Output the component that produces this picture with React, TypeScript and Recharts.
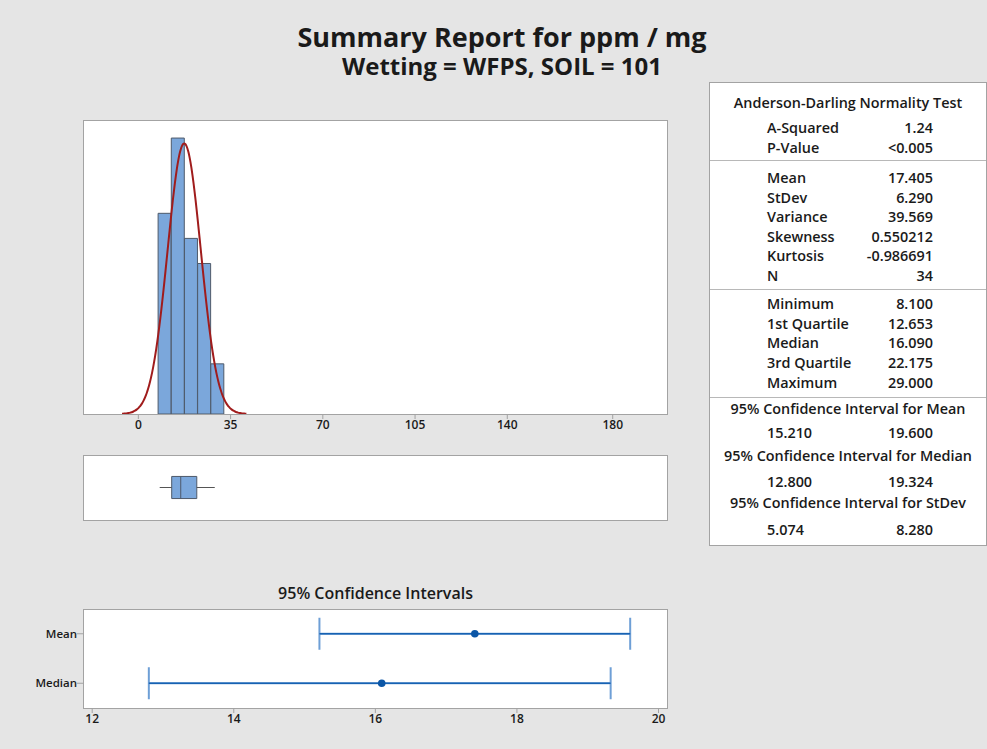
import {
  Bar,
  ComposedChart,
  ErrorBar,
  Line,
  ReferenceArea,
  ReferenceLine,
  Scatter,
  ScatterChart,
  XAxis,
  YAxis,
} from "recharts";

// histogram of ppm / mg
const binCenters = [10, 15, 20, 25, 30];
const binCounts = [8, 11, 7, 6, 2];
const binWidth = 5;
const histTicks = [0, 35, 70, 105, 140, 180];
const histDomain: [number, number] = [-21, 200.6];

// sample summary (also used for the fitted normal curve)
const sampleN = 34;
const sampleMean = 17.405;
const sampleStDev = 6.29;

// boxplot five-number summary
const boxMin = 8.1;
const boxQ1 = 12.653;
const boxMedian = 16.09;
const boxQ3 = 22.175;
const boxMax = 29.0;

// 95% confidence intervals
const ciNames = ["Mean", "Median"];
const ciCenters = [17.405, 16.09];
const ciLower = [15.21, 12.8];
const ciUpper = [19.6, 19.324];
const ciTicks = [12, 14, 16, 18, 20];
const ciDomain: [number, number] = [11.87, 20.12];

// right-hand table
const adLabels = ["A-Squared", "P-Value"];
const adValues = ["1.24", "<0.005"];
const momentLabels = ["Mean", "StDev", "Variance", "Skewness", "Kurtosis", "N"];
const momentValues = ["17.405", "6.290", "39.569", "0.550212", "-0.986691", "34"];
const quantLabels = ["Minimum", "1st Quartile", "Median", "3rd Quartile", "Maximum"];
const quantValues = ["8.100", "12.653", "16.090", "22.175", "29.000"];
const ciTableTitles = [
  "95% Confidence Interval for Mean",
  "95% Confidence Interval for Median",
  "95% Confidence Interval for StDev",
];
const ciTableLow = ["15.210", "12.800", "5.074"];
const ciTableHigh = ["19.600", "19.324", "8.280"];

const BG = "#e5e5e5";
const PANEL_BORDER = "#a3a3a3";
const BAR_FILL = "#7ba7db";
const BAR_STROKE = "#4e5a6a";
const CURVE = "#a01c1c";
const TEXT = "#1a1a1a";

const histData = binCenters.map((x, i) => ({ x, count: binCounts[i] }));

// fitted normal density scaled to counts
const curveLo = sampleMean - 3.75 * sampleStDev;
const curveHi = sampleMean + 3.75 * sampleStDev;
const curveData = Array.from({ length: 121 }, (_, i) => {
  const x = curveLo + ((curveHi - curveLo) * i) / 120;
  const z = (x - sampleMean) / sampleStDev;
  const y = (sampleN * binWidth * Math.exp(-0.5 * z * z)) / (sampleStDev * Math.sqrt(2 * Math.PI));
  return { x, y };
});

const ciData = ciNames.map((name, i) => ({
  name,
  center: ciCenters[i],
  err: [ciCenters[i] - ciLower[i], ciUpper[i] - ciCenters[i]],
}));

const tickStyle = { fontSize: 12, fill: TEXT, fontWeight: 600 };

function Panel({ left, top, width, height }: { left: number; top: number; width: number; height: number }) {
  return (
    <div
      style={{
        position: "absolute",
        left,
        top,
        width: width - 2,
        height: height - 2,
        background: "#fff",
        border: `1px solid ${PANEL_BORDER}`,
      }}
    />
  );
}

function Histogram() {
  return (
    <div style={{ position: "absolute", left: 73, top: 110 }}>
      <ComposedChart width={604} height={340} data={histData} margin={{ top: 10, right: 10, bottom: 6, left: 10 }} barCategoryGap={0} barGap={0}>
        <XAxis
          dataKey="x"
          type="number"
          domain={histDomain}
          ticks={histTicks}
          allowDataOverflow
          axisLine={false}
          tickLine={{ stroke: PANEL_BORDER }}
          tickSize={5}
          tickMargin={1}
          tick={tickStyle}
          interval={0}
        />
        <XAxis xAxisId="curve" dataKey="x" type="number" domain={histDomain} allowDataOverflow hide />
        <YAxis type="number" domain={[0, 11.72]} allowDataOverflow hide />
        <Bar dataKey="count" fill={BAR_FILL} stroke={BAR_STROKE} strokeWidth={1} isAnimationActive={false} />
        <Line
          xAxisId="curve"
          data={curveData}
          dataKey="y"
          type="monotone"
          stroke={CURVE}
          strokeWidth={2}
          dot={false}
          isAnimationActive={false}
        />
      </ComposedChart>
    </div>
  );
}

function BoxPlot() {
  return (
    <div style={{ position: "absolute", left: 73, top: 445 }}>
      <ComposedChart width={604} height={85} data={[{ x: boxMedian, y: 0.5 }]} margin={{ top: 10, right: 10, bottom: 10, left: 10 }}>
        <XAxis dataKey="x" type="number" domain={histDomain} allowDataOverflow hide />
        <YAxis type="number" domain={[0, 1]} allowDataOverflow hide />
        <ReferenceLine segment={[{ x: boxMin, y: 0.5 }, { x: boxQ1, y: 0.5 }]} stroke="#555" strokeWidth={1} />
        <ReferenceLine segment={[{ x: boxQ3, y: 0.5 }, { x: boxMax, y: 0.5 }]} stroke="#555" strokeWidth={1} />
        <ReferenceArea x1={boxQ1} x2={boxQ3} y1={0.33} y2={0.67} fill={BAR_FILL} fillOpacity={1} stroke={BAR_STROKE} strokeWidth={1} />
        <ReferenceLine segment={[{ x: boxMedian, y: 0.33 }, { x: boxMedian, y: 0.67 }]} stroke={BAR_STROKE} strokeWidth={1} />
      </ComposedChart>
    </div>
  );
}

function CiChart() {
  return (
    <div style={{ position: "absolute", left: 0, top: 599 }}>
      <ScatterChart width={687} height={140} margin={{ top: 10, right: 20, bottom: 1, left: 13 }}>
        <XAxis
          dataKey="center"
          type="number"
          domain={ciDomain}
          ticks={ciTicks}
          allowDataOverflow
          axisLine={false}
          tickLine={{ stroke: PANEL_BORDER }}
          tickSize={5}
          tickMargin={1}
          tick={tickStyle}
          interval={0}
        />
        <YAxis
          dataKey="name"
          type="category"
          reversed
          width={70}
          axisLine={false}
          tickLine={{ stroke: PANEL_BORDER }}
          tickSize={6}
          tickMargin={0}
          tick={{ fontSize: 11.5, fill: TEXT, fontWeight: 600 }}
        />
        <Scatter
          data={ciData}
          isAnimationActive={false}
          shape={(p: any) => <circle cx={p.cx} cy={p.cy} r={3.8} fill="#0b56a6" />}
        >
          <ErrorBar dataKey="err" direction="x" width={16} stroke="#6e9fd6" strokeWidth={2} isAnimationActive={false} />
          <ErrorBar dataKey="err" direction="x" width={0} stroke="#1762b2" strokeWidth={1.5} isAnimationActive={false} />
        </Scatter>
      </ScatterChart>
    </div>
  );
}

function Row({ top, label, value }: { top: number; label: string; value: string }) {
  return (
    <>
      <div style={{ position: "absolute", left: 57, top: top - 10, height: 20, lineHeight: "20px", whiteSpace: "nowrap" }}>{label}</div>
      <div style={{ position: "absolute", right: 53, top: top - 10, height: 20, lineHeight: "20px", whiteSpace: "nowrap", textAlign: "right" }}>{value}</div>
    </>
  );
}

function Centered({ top, text }: { top: number; text: string }) {
  return (
    <div style={{ position: "absolute", left: 0, right: 0, top: top - 10, height: 20, lineHeight: "20px", textAlign: "center", whiteSpace: "nowrap" }}>
      {text}
    </div>
  );
}

function StatsTable() {
  const T = 82;
  const sep = (y: number) => (
    <div style={{ position: "absolute", left: 0, right: 0, top: y - T - 1, height: 1, background: "#b8b8b8" }} />
  );
  return (
    <div
      style={{
        position: "absolute",
        left: 709,
        top: T,
        width: 276,
        height: 462,
        background: "#fff",
        border: `1px solid ${PANEL_BORDER}`,
        fontSize: 14.4,
        fontWeight: 600,
        color: TEXT,
      }}
    >
      <Centered top={102 - T} text="Anderson-Darling Normality Test" />
      {adLabels.map((l, i) => (
        <Row key={l} top={127 + i * 19.7 - T} label={l} value={adValues[i]} />
      ))}
      {sep(160)}
      {momentLabels.map((l, i) => (
        <Row key={l} top={177 + i * 19.5 - T} label={l} value={momentValues[i]} />
      ))}
      {sep(289)}
      {quantLabels.map((l, i) => (
        <Row key={l} top={303 + i * 19.7 - T} label={l} value={quantValues[i]} />
      ))}
      {sep(397)}
      {ciTableTitles.map((t, i) => (
        <div key={t}>
          <Centered top={408 + i * 47.2 - T} text={t} />
          <Row top={432 + i * 48.5 - T} label={ciTableLow[i]} value={ciTableHigh[i]} />
        </div>
      ))}
    </div>
  );
}

export default function App() {
  return (
    <div
      style={{
        position: "absolute",
        left: 0,
        top: 0,
        width: 987,
        height: 749,
        background: BG,
        overflow: "hidden",
        fontFamily: "'Open Sans', 'Noto Sans', sans-serif",
        color: TEXT,
      }}
    >
      <div style={{ position: "absolute", left: 0, width: 1004, top: 22, textAlign: "center", fontSize: 27, fontWeight: 700, lineHeight: "30px" }}>
        Summary Report for ppm / mg
      </div>
      <div style={{ position: "absolute", left: 0, width: 1004, top: 53, textAlign: "center", fontSize: 24, fontWeight: 700, lineHeight: "26px" }}>
        Wetting = WFPS, SOIL = 101
      </div>

      <Panel left={83} top={120} width={585} height={295} />
      <Histogram />

      <Panel left={83} top={455} width={585} height={66} />
      <BoxPlot />

      <div style={{ position: "absolute", left: 83, width: 585, top: 583, textAlign: "center", fontSize: 16, fontWeight: 600, lineHeight: "20px" }}>
        95% Confidence Intervals
      </div>
      <Panel left={83} top={609} width={585} height={100} />
      <CiChart />

      <StatsTable />
    </div>
  );
}
